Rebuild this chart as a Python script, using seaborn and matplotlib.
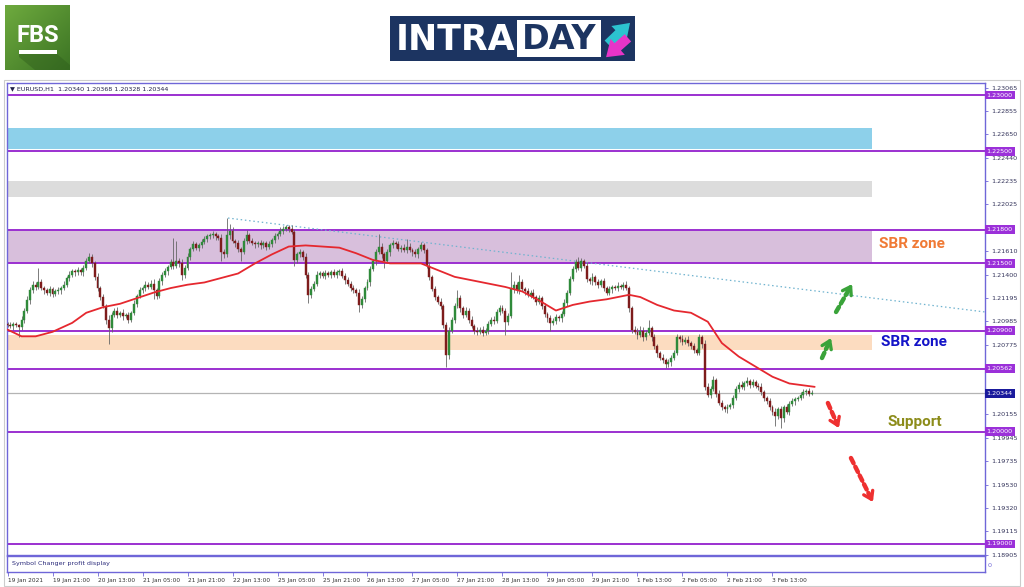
import matplotlib
matplotlib.use("Agg")
import matplotlib.pyplot as plt
import numpy as np
import seaborn as sns
from matplotlib.patches import Rectangle, FancyArrowPatch, Polygon
from matplotlib.colors import LinearSegmentedColormap

# ---- data (prices in pips above 1.2000) ----
BASE = 1.2
PIP = 1e-4

first_open = 96
close_pips = [
    95, 94, 96, 95, 93, 100, 108, 117, 126, 131, 129, 133, 128, 126, 124, 127,
    123, 125, 126, 128, 131, 137, 140, 143, 142, 144, 142, 146, 152, 156, 150, 138,
    128, 120, 112, 100, 92, 104, 108, 104, 106, 103, 104, 100, 106, 114, 121, 126,
    128, 131, 129, 132, 126, 121, 134, 140, 143, 147, 151, 148, 152, 150, 140, 146,
    156, 163, 167, 164, 166, 169, 172, 174, 175, 176, 174, 173, 160, 158, 175, 179,
    170, 168, 163, 160, 170, 175, 170, 168, 167, 168, 166, 168, 165, 167, 171, 174,
    176, 179, 181, 182, 181, 178, 153, 158, 160, 156, 140, 122, 127, 132, 140, 141,
    139, 141, 140, 142, 140, 142, 143, 139, 135, 132, 128, 126, 124, 113, 118, 128,
    133, 145, 152, 160, 165, 158, 152, 160, 166, 168, 167, 163, 164, 162, 165, 162,
    160, 158, 163, 166, 162, 148, 138, 127, 120, 116, 112, 95, 68, 90, 100, 112,
    119, 110, 104, 108, 100, 94, 90, 89, 91, 88, 90, 96, 100, 99, 107, 110,
    108, 98, 103, 127, 131, 126, 133, 127, 125, 122, 124, 120, 116, 119, 112, 105,
    101, 97, 99, 102, 101, 105, 115, 124, 136, 145, 151, 146, 152, 148, 136, 134,
    138, 133, 131, 134, 128, 124, 127, 129, 128, 130, 129, 131, 128, 110, 91, 89,
    86, 90, 84, 88, 92, 84, 76, 70, 66, 64, 60, 62, 66, 70, 84, 83,
    80, 82, 79, 76, 73, 70, 84, 78, 40, 33, 38, 46, 34, 26, 22, 20,
    22, 24, 30, 38, 42, 40, 43, 45, 42, 44, 41, 40, 35, 30, 27, 22,
    18, 14, 20, 12, 22, 18, 25, 27, 29, 30, 33, 35, 36, 34, 34.4,
]
up_wick = [
    2, 3, 2, 2, 1, 3, 2, 4, 3, 3, 2, 13, 3, 2, 2, 3,
    2, 2, 3, 2, 3, 2, 3, 2, 2, 3, 2, 3, 3, 3, 2, 2,
    3, 2, 3, 2, 4, 3, 2, 3, 2, 3, 2, 3, 2, 3, 2, 3,
    2, 3, 2, 3, 4, 2, 3, 2, 3, 2, 3, 22, 18, 3, 4, 3,
    3, 2, 3, 2, 2, 3, 2, 2, 2, 3, 2, 2, 3, 3, 15, 6,
    3, 2, 3, 2, 3, 5, 2, 3, 2, 2, 3, 2, 2, 3, 2, 3,
    2, 3, 2, 2, 2, 3, 3, 2, 3, 2, 3, 2, 3, 2, 3, 2,
    2, 3, 2, 2, 3, 2, 2, 3, 2, 3, 2, 3, 2, 3, 3, 2,
    3, 3, 2, 3, 11, 3, 2, 3, 2, 3, 2, 3, 2, 3, 7, 3,
    2, 3, 2, 3, 2, 2, 3, 2, 3, 2, 3, 2, 3, 3, 2, 3,
    7, 3, 2, 3, 2, 3, 2, 3, 2, 3, 2, 3, 2, 3, 2, 3,
    3, 2, 3, 15, 3, 2, 7, 3, 2, 3, 2, 3, 2, 3, 2, 3,
    2, 3, 2, 3, 2, 3, 3, 2, 3, 3, 3, 5, 3, 2, 3, 2,
    3, 2, 3, 2, 3, 2, 3, 2, 2, 3, 2, 2, 3, 2, 2, 3,
    3, 4, 3, 3, 8, 2, 3, 2, 2, 3, 2, 3, 2, 3, 3, 2,
    3, 2, 3, 2, 3, 2, 3, 2, 4, 3, 3, 4, 2, 3, 2, 2,
    3, 2, 3, 3, 2, 3, 2, 4, 2, 3, 2, 2, 3, 2, 2, 3,
    2, 3, 2, 3, 2, 3, 2, 3, 2, 2, 2, 3, 2, 3, 2.4,
]
dn_wick = [
    2, 2, 3, 2, 9, 2, 3, 2, 3, 2, 3, 2, 2, 3, 2, 3,
    3, 2, 2, 3, 2, 2, 3, 2, 3, 2, 2, 3, 2, 2, 3, 3,
    3, 3, 2, 4, 14, 3, 2, 3, 2, 3, 2, 3, 2, 2, 3, 2,
    2, 3, 2, 2, 8, 3, 2, 3, 2, 3, 2, 3, 2, 3, 5, 3,
    2, 3, 2, 2, 3, 2, 2, 3, 2, 2, 3, 2, 8, 3, 2, 3,
    2, 3, 3, 8, 2, 3, 2, 2, 3, 2, 3, 2, 3, 2, 2, 3,
    2, 2, 3, 2, 3, 2, 5, 3, 2, 3, 3, 7, 3, 2, 2, 3,
    2, 3, 2, 3, 2, 3, 2, 2, 3, 2, 3, 2, 3, 6, 3, 2,
    2, 3, 2, 3, 2, 3, 6, 2, 3, 2, 3, 2, 3, 2, 3, 2,
    3, 2, 3, 2, 3, 2, 3, 2, 3, 2, 3, 3, 10, 3, 2, 3,
    2, 3, 3, 2, 3, 2, 3, 3, 2, 3, 2, 3, 2, 3, 2, 3,
    2, 12, 3, 2, 3, 2, 3, 2, 3, 2, 3, 2, 3, 2, 3, 3,
    3, 7, 2, 3, 2, 3, 2, 3, 2, 2, 3, 2, 3, 2, 3, 2,
    3, 2, 3, 2, 3, 2, 2, 3, 2, 3, 2, 3, 2, 3, 3, 2,
    3, 2, 3, 2, 2, 3, 2, 3, 2, 3, 3, 2, 3, 2, 2, 3,
    3, 2, 3, 2, 3, 2, 2, 3, 3, 2, 3, 2, 3, 2, 3, 2,
    3, 2, 3, 2, 3, 2, 3, 2, 3, 2, 2, 3, 2, 3, 2, 3,
    3, 9, 3, 9, 3, 2, 3, 2, 3, 2, 2, 3, 2, 2, 1.2,
]

# moving average at these bars
ma_bars = [0, 5, 10, 16, 23, 28, 34, 40, 46, 52, 58, 64, 70, 76, 82, 88, 94,
           100, 106, 112, 118, 124, 130, 136, 141, 147, 153, 159, 165, 171,
           177, 183, 189, 195, 201, 207, 213, 221, 225, 231, 237, 243, 249,
           254, 260, 266, 272, 278, 284, 287]
ma_pips = [91, 85, 85, 89, 97, 106, 111, 114, 119, 124, 128, 131, 133, 137,
           141, 150, 158, 165, 166, 165, 164, 159, 153, 150, 150, 150, 144,
           138, 135, 132, 129, 125, 117, 108, 113, 116, 118, 122, 120, 113,
           108, 106, 98, 79, 67, 58, 49, 43, 41, 40]

trend_bars = [78.4, 347.6]
trend_prices = [1.21904, 1.21067]

levels = [1.23, 1.225, 1.218, 1.215, 1.209, 1.20562, 1.20, 1.19]
level_labels = ["1.23000", "1.22500", "1.21800", "1.21500", "1.20900",
                "1.20562", "1.20000", "1.19000"]
current_price = 1.20344

zone_lo = [1.22519, 1.22091, 1.215, 1.20728]
zone_hi = [1.22706, 1.22234, 1.218, 1.20862]
zone_colors = ["#8dd0ea", "#dcdcdc", "#d8bfdc", "#fcdcc0"]
zone_end_bar = 307.4

price_ticks = [1.23065, 1.22855, 1.22650, 1.22440, 1.22235, 1.22025, 1.21610,
               1.21400, 1.21195, 1.20985, 1.20775, 1.20155, 1.19945, 1.19735,
               1.19530, 1.19320, 1.19115, 1.18905]

time_bars = list(range(0, 273, 16))
time_labels = ["19 Jan 2021", "19 Jan 21:00", "20 Jan 13:00", "21 Jan 05:00",
               "21 Jan 21:00", "22 Jan 13:00", "25 Jan 05:00", "25 Jan 21:00",
               "26 Jan 13:00", "27 Jan 05:00", "27 Jan 21:00", "28 Jan 13:00",
               "29 Jan 05:00", "29 Jan 21:00", "1 Feb 13:00", "2 Feb 05:00",
               "2 Feb 21:00", "3 Feb 13:00"]

# ---- derived OHLC ----
c = BASE + np.array(close_pips) * PIP
o = np.concatenate([[BASE + first_open * PIP], c[:-1]])
h = np.maximum(o, c) + np.array(up_wick) * PIP
l = np.minimum(o, c) - np.array(dn_wick) * PIP
idx = np.arange(len(c))

sns.set_theme(style="white")
plt.rcParams["font.family"] = ["DejaVu Sans"]

W, H = 1024, 587
fig = plt.figure(figsize=(W / 100, H / 100), dpi=100)
fig.patch.set_facecolor("white")

FRAME = "#6f66d8"
LEVEL = "#9b30d0"
XMIN, XMAX = -0.18, 347.56

ax = fig.add_axes([7 / W, 1 - 555 / H, 978 / W, 472 / H])
ax.set_xlim(XMIN, XMAX)
ax.set_ylim(1.18902, 1.23107)
for s in ax.spines.values():
    s.set_color(FRAME)
    s.set_linewidth(1.0)

# zones
for lo, hi, col in zip(zone_lo, zone_hi, zone_colors):
    ax.add_patch(Rectangle((XMIN, lo), zone_end_bar - XMIN, hi - lo,
                           facecolor=col, edgecolor="none", zorder=0.5))

# levels
for lv in levels:
    ax.axhline(lv, color=LEVEL, lw=1.4, zorder=1)
ax.axhline(current_price, color="#b4b4b4", lw=0.9, zorder=1)

# trendline
ax.plot(trend_bars, trend_prices, color="#6fb3cf", lw=0.9,
        linestyle=(0, (1.2, 2.2)), zorder=2)

# candles
bull = c >= o
body_col = np.where(bull, "#2f8a3a", "#7e1c1c")
ax.vlines(idx, l, h, colors="#666666", lw=0.6, zorder=3)
ax.bar(idx, np.maximum(np.abs(c - o), 0.00003), bottom=np.minimum(o, c),
       width=0.7, color=body_col, edgecolor=body_col, lw=0.3, zorder=4)

# moving average
sns.lineplot(x=ma_bars, y=BASE + np.array(ma_pips) * PIP, ax=ax,
             color="#e5282f", lw=1.3, zorder=5)

# price axis
ax.yaxis.tick_right()
ax.set_yticks(price_ticks)
ax.set_yticklabels([f"{p:.5f}" for p in price_ticks])
ax.tick_params(axis="y", length=2.5, width=0.6, color=FRAME, labelsize=4.6,
               labelcolor="#33335a", pad=2, right=True)
ax.set_xticks([])
ytr = ax.get_yaxis_transform()
for lv, lab in zip(levels, level_labels):
    ax.text(1.0015, lv, lab, transform=ytr, ha="left", va="center",
            fontsize=4.6, color="white", zorder=10, clip_on=False,
            bbox=dict(boxstyle="square,pad=0.3", fc="#9b30d9", ec="none"))
ax.text(1.0015, current_price, f"{current_price:.5f}", transform=ytr,
        ha="left", va="center", fontsize=4.6, color="white", zorder=10,
        clip_on=False, bbox=dict(boxstyle="square,pad=0.3", fc="#1a1a9c", ec="none"))

# annotations
def dashed_arrow(x0, y0, x1, y1, col):
    ax.annotate("", xy=(x1, y1), xytext=(x0, y0),
                arrowprops=dict(arrowstyle="-", color=col, lw=3.2,
                                linestyle=(0, (1.3, 0.9)), shrinkA=0, shrinkB=3),
                zorder=6)
    hx, hy = x1 - 0.2 * (x1 - x0), y1 - 0.2 * (y1 - y0)
    ax.annotate("", xy=(x1, y1), xytext=(hx, hy),
                arrowprops=dict(arrowstyle="->,head_length=0.45,head_width=0.3",
                                color=col, lw=2.4, shrinkA=0, shrinkB=0),
                zorder=6)

dashed_arrow(289.6, 1.20657, 292.8, 1.20835, "#3aa33a")
dashed_arrow(294.6, 1.21067, 300.3, 1.21316, "#3aa33a")
dashed_arrow(291.7, 1.20256, 295.6, 1.20033, "#ee3030")
dashed_arrow(299.9, 1.19766, 307.7, 1.19374, "#ee3030")

ax.text(321.6, 1.21673, "SBR zone", color="#f07a35", fontsize=11,
        fontweight="bold", family=["Roboto", "DejaVu Sans"], ha="center", va="center")
ax.text(322.3, 1.20800, "SBR zone", color="#1414c8", fontsize=11,
        fontweight="bold", family=["Roboto", "DejaVu Sans"], ha="center", va="center")
ax.text(322.7, 1.20087, "Support", color="#8c8c1a", fontsize=11,
        fontweight="bold", family=["Roboto", "DejaVu Sans"], ha="center", va="center")

# header line inside the chart
fig.text(10 / W, 1 - 89 / H, "\u25bc EURUSD,H1  1.20340 1.20368 1.20328 1.20344",
         fontsize=4.6, color="#22224a", va="center", ha="left")

# sub window
sub = fig.add_axes([7 / W, 1 - 572 / H, 978 / W, 16 / H])
sub.set_xlim(XMIN, XMAX)
sub.set_ylim(0, 1)
sub.set_yticks([])
for s in sub.spines.values():
    s.set_color(FRAME)
    s.set_linewidth(1.0)
sub.text(0.005, 0.5, "Symbol Changer profit display", transform=sub.transAxes,
         fontsize=4.6, color="#2a2a7a", va="center", ha="left")
sub.text(1.004, 0.5, "0", transform=sub.transAxes, fontsize=4.6,
         color="#6f66d8", va="center", ha="left", rotation=90)
sub.set_xticks(time_bars)
sub.set_xticklabels(time_labels, fontsize=4.2, color="#333333", ha="left")
sub.tick_params(axis="x", length=3, width=0.6, color=FRAME, pad=1.5, bottom=True)

# outer chart frame
fig.patches.append(Rectangle((4 / W, 1 - 586 / H), 1016 / W, 506 / H,
                             transform=fig.transFigure, fill=False,
                             ec="#cccccc", lw=0.8))

# ---- FBS logo ----
lg = fig.add_axes([5 / W, 1 - 70 / H, 65 / W, 65 / H])
lg.set_xlim(0, 65)
lg.set_ylim(65, 0)
lg.axis("off")
grad = np.add.outer(np.linspace(0, 1, 50), np.linspace(0, 1, 50))
cmap = LinearSegmentedColormap.from_list("fbs", ["#6eaa3e", "#3c7424"])
lg.imshow(grad, cmap=cmap, extent=(0, 65, 65, 0), aspect="auto")
lg.add_patch(Polygon([(14, 49), (52, 49), (65, 60), (65, 65), (30, 65), (14, 52)],
                     closed=True, fc="#2f5e1c", ec="none", alpha=0.45))
lg.text(33, 31, "FBS", color="white", fontsize=17, fontweight="bold",
        family=["Roboto", "DejaVu Sans"], ha="center", va="center")
lg.add_patch(Rectangle((14, 45), 38, 3.5, fc="white", ec="none"))

# ---- INTRADAY logo ----
il = fig.add_axes([390 / W, 1 - 61 / H, 245 / W, 45 / H])
il.set_xlim(0, 245)
il.set_ylim(45, 0)
il.axis("off")
il.add_patch(Rectangle((0, 0), 245, 45, fc="#1c3461", ec="none"))
il.text(6, 23.5, "INTRA", color="white", fontsize=25, fontweight="bold",
        family="DejaVu Sans", ha="left", va="center")
il.add_patch(Rectangle((127, 4), 84, 37, fc="white", ec="none"))
il.text(169, 23.5, "DAY", color="#1c3461", fontsize=24, fontweight="bold",
        family="DejaVu Sans", ha="center", va="center")
il.add_patch(FancyArrowPatch((216, 30), (242, 5),
                             arrowstyle="simple,head_length=0.8,head_width=1.1,tail_width=0.5",
                             mutation_scale=14, color="#2cc3cf", lw=0))
il.add_patch(FancyArrowPatch((240, 20), (214, 43),
                             arrowstyle="simple,head_length=0.8,head_width=1.1,tail_width=0.5",
                             mutation_scale=14, color="#e834c8", lw=0))

fig.savefig("out.png", dpi=100)
